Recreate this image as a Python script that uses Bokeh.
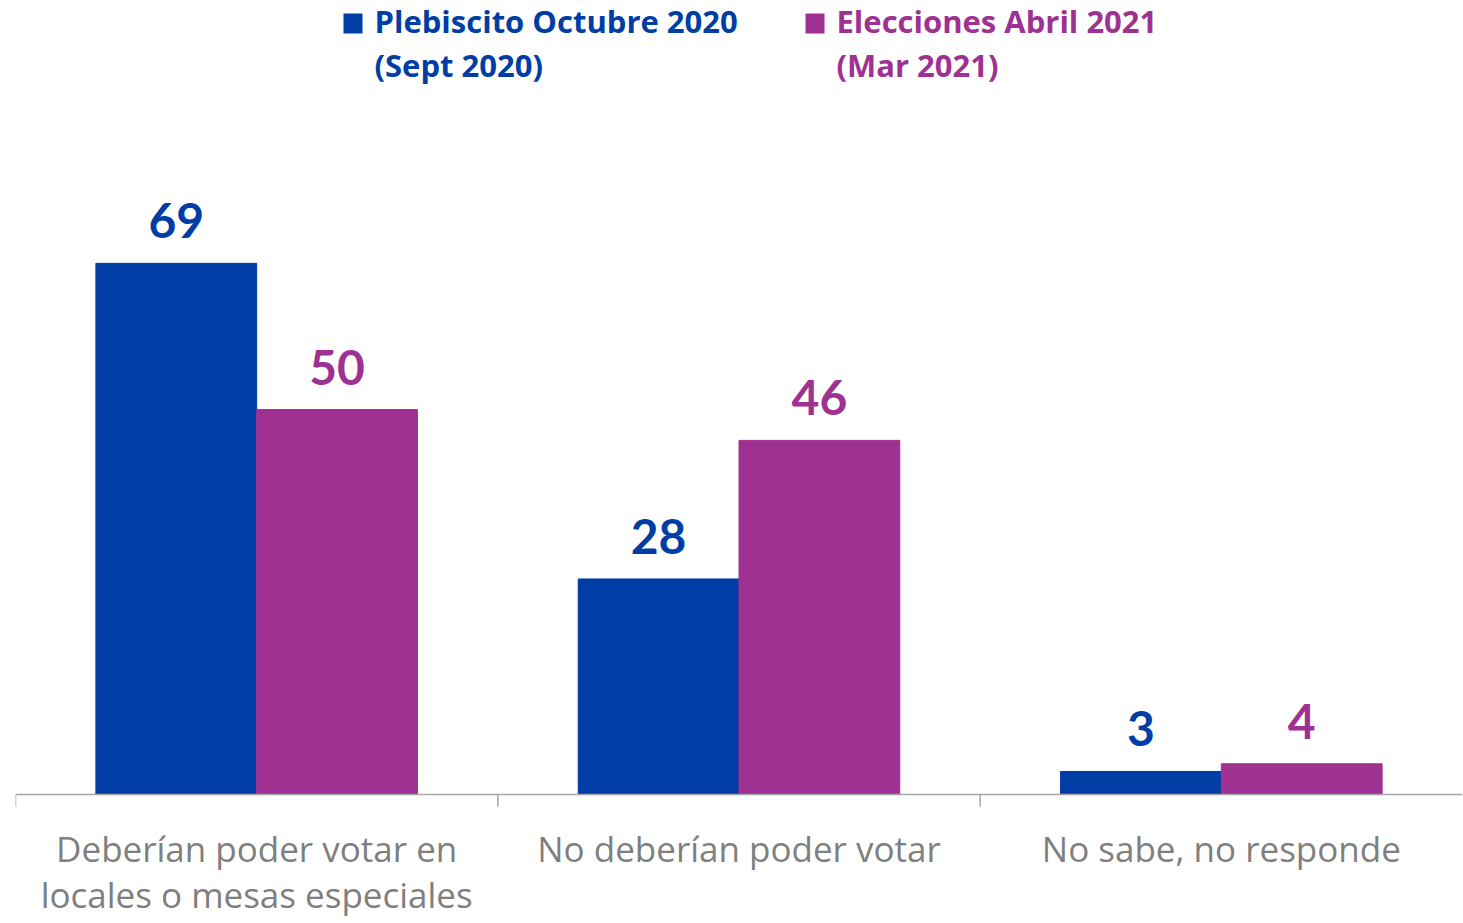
import numpy as np
from bokeh.plotting import figure
from bokeh.models import (Range1d, ColumnDataSource, LabelSet, Label, BoxAnnotation, Span)
from bokeh.core.properties import value
from bokeh.embed import file_html
from bokeh.resources import INLINE

categories = ["Deberían poder votar en\nlocales o mesas especiales",
              "No deberían poder votar",
              "No sabe, no responde"]
series_line1 = ["Plebiscito Octubre 2020", "Elecciones Abril 2021"]
series_line2 = ["(Sept 2020)", "(Mar 2021)"]
plebiscito = [69, 28, 3]
elecciones = [50, 46, 4]

BLUE = "#003DA5"
PURPLE = "#9E3191"
GRAY = "#7F7F7F"
AXIS = "#A6A6A6"
FONT = "Open Sans"
NUM_FONT = "Lato"

W, H = 1463, 923
TOP, LEFT, RIGHT = 8, 15, 1
Y_END, Y_START = 102.1, -16.75
PX_PER_UNIT = (H - TOP) / (Y_END - Y_START)
TICK_LEN = 12 / PX_PER_UNIT

n = len(categories)
centers = np.arange(n) + 0.5
bounds = np.arange(n).astype(float)
BAR_W = 1 / 3

src = ColumnDataSource(dict(xp=centers - BAR_W / 2, xe=centers + BAR_W / 2,
                            pleb=plebiscito, elec=elecciones,
                            pleb_t=[str(v) for v in plebiscito],
                            elec_t=[str(v) for v in elecciones]))

split = [c.split("\n") for c in categories]
cat_src = ColumnDataSource(dict(x=centers, y=[0] * n,
                                l1=[s[0] for s in split],
                                l2=[s[1] if len(s) > 1 else "" for s in split]))

p = figure(x_range=Range1d(0, n), y_range=Range1d(Y_START, Y_END),
           width=W, height=H, output_backend="svg", toolbar_location=None,
           x_axis_location=None, y_axis_location=None,
           min_border_left=LEFT, min_border_right=RIGHT, min_border_top=TOP,
           min_border_bottom=0, outline_line_color=None)
p.grid.visible = False

p.vbar(x="xp", top="pleb", bottom=0, width=BAR_W, source=src,
       fill_color=BLUE, line_color=BLUE)
p.vbar(x="xe", top="elec", bottom=0, width=BAR_W, source=src,
       fill_color=PURPLE, line_color=PURPLE)

for xcol, col, colr in (("xp", "pleb", BLUE), ("xe", "elec", PURPLE)):
    p.add_layout(LabelSet(x=xcol, y=col, text=col + "_t", source=src, y_offset=25,
                          text_align="center", text_baseline="alphabetic",
                          text_font=value(NUM_FONT), text_font_style="bold",
                          text_font_size="48px", text_color=colr))

# category axis: base line at 0 and ticks at the category boundaries
p.add_layout(Span(location=0, dimension="width", line_color=AXIS, line_width=1.5))
p.segment(x0=bounds, y0=[0] * n, x1=bounds, y1=[-TICK_LEN] * n,
          line_color=AXIS, line_width=1.5)

# category labels, two lines each, below the axis
for col, off in (("l1", -67), ("l2", -113)):
    p.add_layout(LabelSet(x="x", y="y", text=col, source=cat_src, y_offset=off,
                          text_align="center", text_baseline="alphabetic",
                          text_font=value(FONT), text_font_size="35px",
                          text_color=GRAY))

# legend (screen units relative to the frame, y from bottom)
legend_x = [328, 790]
frame_h = H - TOP
box_top = frame_h - (13 - TOP) - 129 + 129  # keep square aligned with frame top
for i, colr in enumerate((BLUE, PURPLE)):
    x0 = legend_x[i]
    p.add_layout(BoxAnnotation(left=x0, right=x0 + 19, top=frame_h - 5, bottom=frame_h - 25,
                               left_units="screen", right_units="screen",
                               top_units="screen", bottom_units="screen",
                               fill_color=colr, fill_alpha=1, line_color=None))
    for j, txt in enumerate((series_line1[i], series_line2[i])):
        p.add_layout(Label(x=x0 + 31, y=frame_h - 12 - 44 * j, x_units="screen",
                           y_units="screen", text=txt, text_font=FONT,
                           text_font_style="bold", text_font_size="31px",
                           text_color=colr, text_baseline="alphabetic",
                           text_align="left"))

open("out.html", "w").write(file_html(p, INLINE))
